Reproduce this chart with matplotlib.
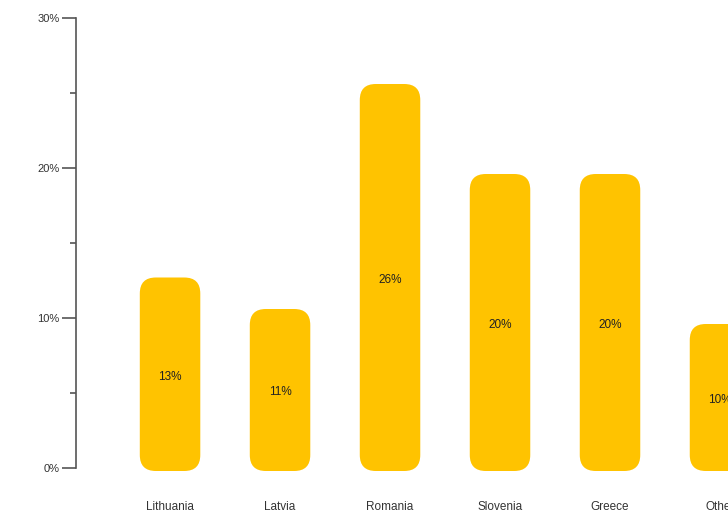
import numpy as np
import matplotlib.pyplot as plt
from matplotlib.patches import FancyBboxPatch
from matplotlib.ticker import FuncFormatter, MultipleLocator

plt.rcParams['font.family'] = ['Liberation Sans', 'DejaVu Sans']

countries = ['Lithuania', 'Latvia', 'Romania', 'Slovenia', 'Greece', 'Other']
shares = [12.7, 10.6, 25.6, 19.6, 19.6, 9.6]

BAR_COLOR = '#FFC300'
TEXT_COLOR = '#333333'
BAR_WIDTH = 0.55
BASE = -0.2  # bars sit a hair below the zero line

fig = plt.figure(figsize=(7.28, 5.17), dpi=100)
# axes runs past the right edge of the figure, so the last bar is cut off
ax = fig.add_axes([76 / 728, 49 / 517, 699 / 728, 450 / 517])
ax.set_xlim(-0.855, 5.5)
ax.set_ylim(0, 30)

x_unit = 110.0  # px per category
y_unit = 15.0   # px per percent
radius = 16 / x_unit
for i, v in enumerate(shares):
    box = FancyBboxPatch((i - BAR_WIDTH / 2, BASE), BAR_WIDTH, v - BASE,
                         boxstyle=f'round,pad=0,rounding_size={radius}',
                         mutation_aspect=x_unit / y_unit,
                         facecolor=BAR_COLOR, edgecolor='none', clip_on=False)
    ax.add_patch(box)
    ax.text(i, v / 2 - 0.25, f'{round(v):.0f}%', ha='center', va='center',
            fontsize=8.5, color='#222222')

ax.set_xticks(np.arange(len(countries)))
ax.set_xticklabels(countries)
ax.tick_params(axis='x', length=0, pad=24, labelsize=8.5, labelcolor=TEXT_COLOR)

ax.yaxis.set_major_locator(MultipleLocator(10))
ax.yaxis.set_minor_locator(MultipleLocator(5))
ax.yaxis.set_major_formatter(FuncFormatter(lambda v, _: f'{v:.0f}%'))
ax.tick_params(axis='y', which='major', length=10, width=1.2, color='#555555',
               labelsize=8, labelcolor=TEXT_COLOR, pad=2)
ax.tick_params(axis='y', which='minor', length=4, width=1.2, color='#555555')

for side in ['top', 'right', 'bottom']:
    ax.spines[side].set_visible(False)
ax.spines['left'].set_color('#555555')
ax.spines['left'].set_linewidth(1.2)

fig.savefig('out.png', dpi=100)
